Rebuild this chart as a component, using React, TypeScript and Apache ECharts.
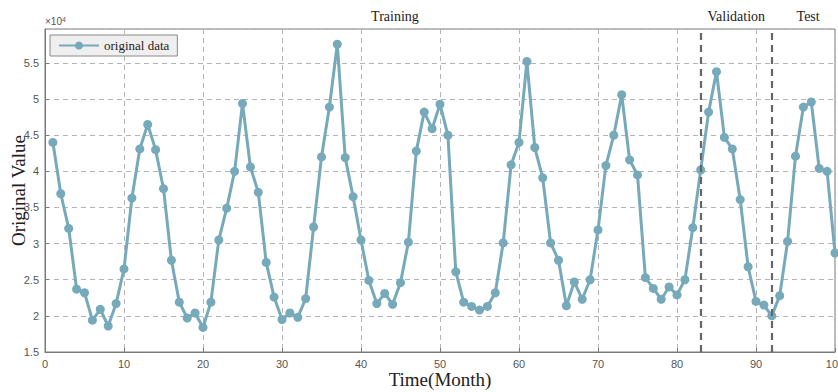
import React, { useEffect, useRef } from "react";
import * as echarts from "echarts";

const months: number[] = Array.from({ length: 100 }, (_, i) => i + 1);
const values: number[] = [
  44000, 36900, 32100, 23700, 23200, 19400, 20900, 18600, 21700, 26500,
  36300, 43100, 46500, 43000, 37600, 27700, 21900, 19700, 20400, 18400,
  21900, 30500, 34900, 40000, 49400, 40600, 37100, 27400, 22600, 19500,
  20400, 19800, 22400, 32300, 42000, 48900, 57600, 41900, 36500, 30500,
  24900, 21700, 23100, 21600, 24600, 30200, 42800, 48200, 45900, 49300,
  45000, 26100, 21900, 21300, 20800, 21300, 23200, 30100, 40900, 44000,
  55200, 43300, 39100, 30100, 27700, 21400, 24700, 22300, 25000, 31900,
  40800, 45000, 50600, 41600, 39500, 25300, 23800, 22300, 24000, 22900,
  25000, 32200, 40200, 48200, 53800, 44700, 43100, 36100, 26800, 22000,
  21500, 20000, 22800, 30300, 42100, 48900, 49600, 40400, 40000, 28700,
];
const splitMonths: number[] = [83, 92];
const sectionNames: string[] = ["Training", "Validation", "Test"];
const sectionCenters: number[] = [44.3, 87.5, 96.6];

const LINE_COLOR = "#76a9ba";
const SERIF = "'Liberation Serif', 'Times New Roman', serif";
const SANS = "'Liberation Sans', Arial, sans-serif";

export default function App() {
  const ref = useRef<HTMLDivElement>(null);
  useEffect(() => {
    if (!ref.current) return;
    const chart = echarts.init(ref.current, undefined, { renderer: "svg" });
    const gridLeft = 45;
    const gridRight = 3;
    const plotW = 838 - gridLeft - gridRight;
    const xToPx = (x: number) => gridLeft + (x / 100) * plotW;
    chart.setOption({
      animation: false,
      backgroundColor: "#ffffff",
      grid: {
        left: gridLeft,
        right: gridRight,
        top: 29,
        bottom: 40,
        show: true,
        borderColor: "#7a7a7a",
        borderWidth: 1,
        backgroundColor: "transparent",
        containLabel: false,
        outerBoundsMode: "none",
      },
      legend: {
        left: 50,
        top: 35,
        data: ["original data"],
        backgroundColor: "#efefef",
        borderColor: "#8a8a8a",
        borderWidth: 1,
        padding: [4, 8, 4, 8],
        itemWidth: 40,
        itemHeight: 10,
        textStyle: { fontFamily: SERIF, fontSize: 13, color: "#222" },
      },
      xAxis: {
        type: "value",
        min: 0,
        max: 100,
        interval: 10,
        name: "Time(Month)",
        nameLocation: "middle",
        nameGap: 18,
        nameMoveOverlap: false,
        nameTextStyle: { fontFamily: SERIF, fontSize: 19, color: "#222" },
        axisLine: { show: true, lineStyle: { color: "#7a7a7a" } },
        axisTick: { show: true, inside: true, length: 4, lineStyle: { color: "#7a7a7a" } },
        axisLabel: { fontFamily: SANS, fontSize: 11, color: "#555", margin: 6 },
        splitLine: { show: true, lineStyle: { color: "#b5b5b5", type: [5, 4], width: 1 } },
      },
      yAxis: {
        type: "value",
        min: 15000,
        max: 59700,
        interval: 5000,
        name: "Original Value",
        nameLocation: "middle",
        nameGap: 17,
        nameMoveOverlap: false,
        nameRotate: 90,
        nameTextStyle: { fontFamily: SERIF, fontSize: 19, color: "#222" },
        axisLine: { show: true, lineStyle: { color: "#7a7a7a" } },
        axisTick: { show: true, inside: true, length: 4, lineStyle: { color: "#7a7a7a" } },
        axisLabel: {
          fontFamily: SANS,
          fontSize: 11,
          color: "#555",
          margin: 6,
          showMaxLabel: false,
          formatter: (v: number) => String(+(v / 10000).toFixed(1)),
        },
        splitLine: { show: true, lineStyle: { color: "#b5b5b5", type: [5, 4], width: 1 } },
      },
      graphic: [
        {
          type: "text",
          left: 45,
          top: 16,
          style: {
            text: "×10{sup|4}",
            fontFamily: SANS,
            fontSize: 10,
            fill: "#555",
            rich: { sup: { fontSize: 7, verticalAlign: "top", fill: "#555", fontFamily: SANS } },
          } as any,
        },
        ...sectionNames.map((name, i) => ({
          type: "text",
          x: xToPx(sectionCenters[i]),
          y: 16,
          style: {
            text: name,
            fontFamily: SERIF,
            fontSize: 14,
            fill: "#222",
            textAlign: "center",
            textVerticalAlign: "middle",
          },
        })),
      ],
      series: [
        {
          name: "original data",
          type: "line",
          data: months.map((m, i) => [m, values[i]]),
          symbol: "circle",
          symbolSize: 9,
          showSymbol: true,
          lineStyle: { color: LINE_COLOR, width: 3 },
          itemStyle: { color: LINE_COLOR },
          clip: false,
          markLine: {
            silent: true,
            symbol: ["none", "none"],
            label: { show: false },
            lineStyle: { color: "#666", type: [7, 5], width: 2.2 },
            data: splitMonths.map((m) => ({ xAxis: m })),
          },
          z: 3,
        },
      ],
    });
    return () => chart.dispose();
  }, []);
  return (
    <div
      ref={ref}
      style={{ position: "fixed", left: 0, top: 0, width: 838, height: 392 }}
    />
  );
}
